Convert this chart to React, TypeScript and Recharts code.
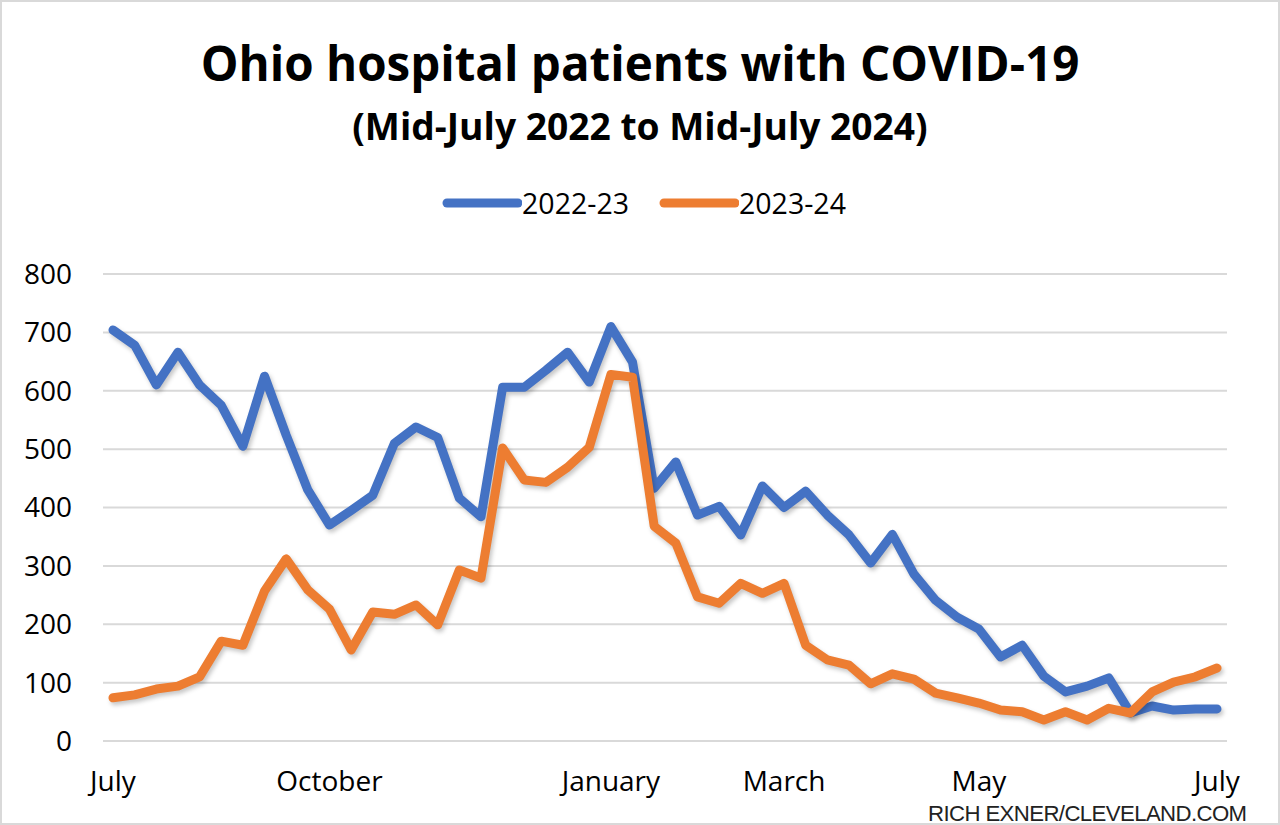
import React from "react";
import {
  LineChart,
  Line,
  XAxis,
  YAxis,
  CartesianGrid,
  Legend,
} from "recharts";

// weekly counts, mid-July to mid-July
const season2223 = [
  704, 678, 610, 666, 610, 575, 505, 625, 524, 430, 370, 395, 421, 510, 538,
  520, 416, 384, 606, 606, 635, 666, 615, 710, 649, 433, 478, 387, 402, 353,
  437, 400, 428, 387, 353, 305, 354, 286, 241, 212, 192, 144, 164, 111, 84, 94,
  108, 48, 60, 53, 55, 55,
];
const season2324 = [
  74, 79, 89, 94, 110, 171, 164, 257, 312, 259, 226, 156, 221, 217, 233, 199,
  293, 279, 502, 447, 443, 469, 503, 628, 623, 368, 339, 247, 236, 270, 253,
  270, 164, 139, 130, 98, 115, 106, 82, 74, 65, 53, 50, 36, 50, 36, 56, 48, 84,
  101, 110, 125,
];
const monthTicks = [0, 10, 23, 31, 40, 51];
const monthLabels = ["July", "October", "January", "March", "May", "July"];
const yTicks = [0, 100, 200, 300, 400, 500, 600, 700, 800];

const data = season2223.map((v, i) => ({
  week: i,
  "2022-23": v,
  "2023-24": season2324[i],
}));

const FONT = "'Open Sans', sans-serif";
const BLUE = "#4472C4";
const ORANGE = "#ED7D31";

function LegendContent(props: any) {
  const items = props.payload || [];
  return (
    <div
      style={{
        display: "flex",
        justifyContent: "center",
        gap: 30,
        fontFamily: FONT,
        fontSize: 28.5,
        color: "#000",
        paddingLeft: 8,
      }}
    >
      {items.map((it: any) => (
        <div key={it.value} style={{ display: "flex", alignItems: "center" }}>
          <svg width={80} height={12} style={{ marginRight: 0 }}>
            <line
              x1={5}
              y1={6}
              x2={76}
              y2={6}
              stroke={it.color}
              strokeWidth={9}
              strokeLinecap="round"
            />
          </svg>
          <span>{it.value}</span>
        </div>
      ))}
    </div>
  );
}

export default function App() {
  return (
    <div
      style={{
        position: "absolute",
        left: 0,
        top: 0,
        width: 1280,
        height: 825,
        background: "#fff",
        border: "2px solid #d9d9d9",
        boxSizing: "border-box",
        fontFamily: FONT,
        overflow: "hidden",
      }}
    >
      <style>{`.recharts-line-curve { filter: drop-shadow(2px 3px 2px rgba(0,0,0,0.22)); }`}</style>
      <div
        style={{
          position: "absolute",
          top: 29,
          left: 0,
          width: 1276,
          textAlign: "center",
          fontWeight: 700,
          fontSize: 47.5,
          lineHeight: "64px",
          color: "#000",
        }}
      >
        Ohio hospital patients with COVID-19
      </div>
      <div
        style={{
          position: "absolute",
          top: 100,
          left: 0,
          width: 1276,
          textAlign: "center",
          fontWeight: 700,
          fontSize: 37.2,
          lineHeight: "48px",
          color: "#000",
        }}
      >
        (Mid-July 2022 to Mid-July 2024)
      </div>
      <div style={{ position: "absolute", left: -2, top: -2 }}>
        <LineChart
          width={1280}
          height={825}
          data={data}
          margin={{ top: 274, right: 53, bottom: 34, left: 43 }}
        >
          <CartesianGrid
            horizontal
            vertical={false}
            stroke="#d9d9d9"
            strokeWidth={2}
          />
          <XAxis
            dataKey="week"
            type="number"
            domain={[0, 51]}
            ticks={monthTicks}
            tickFormatter={(v: number) => monthLabels[monthTicks.indexOf(v)]}
            padding={{ left: 10, right: 10 }}
            axisLine={false}
            tickLine={false}
            tickSize={0}
            tickMargin={30}
            height={50}
            tick={{ fill: "#000", fontSize: 28, fontFamily: FONT }}
            interval={0}
          />
          <YAxis
            domain={[0, 800]}
            ticks={yTicks}
            axisLine={false}
            tickLine={false}
            tickSize={0}
            tickMargin={31}
            width={60}
            tick={{ fill: "#000", fontSize: 28, fontFamily: FONT }}
            interval={0}
          />
          <Legend
            layout="horizontal"
            verticalAlign="middle"
            align="center"
            wrapperStyle={{ top: 184, left: 0, width: 1280 }}
            content={<LegendContent />}
          />
          <Line
            type="linear"
            dataKey="2022-23"
            stroke={BLUE}
            strokeWidth={9}
            strokeLinejoin="round"
            strokeLinecap="round"
            dot={false}
            activeDot={false}
            isAnimationActive={false}
          />
          <Line
            type="linear"
            dataKey="2023-24"
            stroke={ORANGE}
            strokeWidth={9}
            strokeLinejoin="round"
            strokeLinecap="round"
            dot={false}
            activeDot={false}
            isAnimationActive={false}
          />
        </LineChart>
      </div>
      <div
        style={{
          position: "absolute",
          top: 799,
          left: 926,
          fontFamily: "'Liberation Sans Narrow', 'Arial Narrow', sans-serif",
          fontSize: 22.2,
          letterSpacing: -0.6,
          color: "#222",
          whiteSpace: "nowrap",
        }}
      >
        RICH EXNER/CLEVELAND.COM
      </div>
    </div>
  );
}
